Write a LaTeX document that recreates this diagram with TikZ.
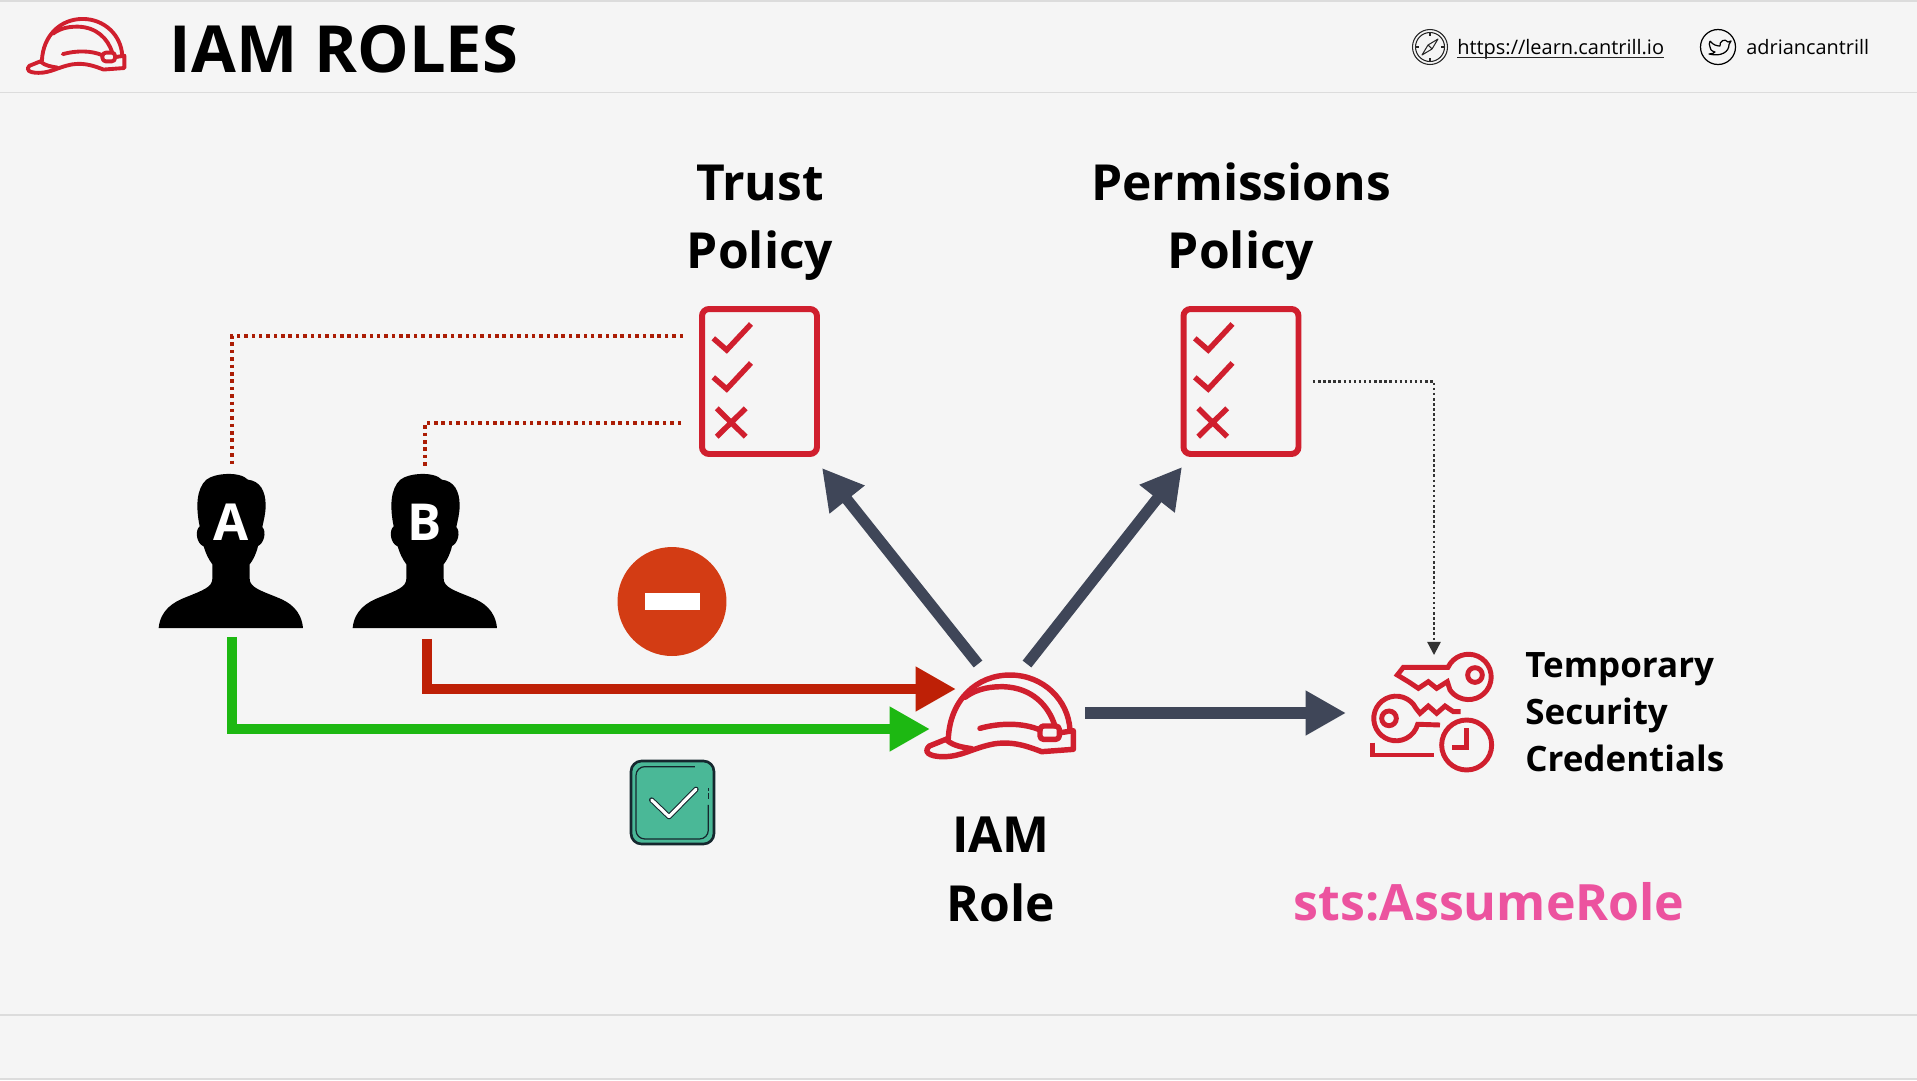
\documentclass[tikz,border=0pt]{standalone}
\usepackage{fontspec}
\usepackage{xcolor}
\setmainfont{Open Sans}
\usetikzlibrary{arrows.meta}
\definecolor{pagegrey}{HTML}{F5F5F5}
\definecolor{ruleline}{HTML}{DCDCDC}
\definecolor{iamred}{HTML}{D01F2E}
\definecolor{slate}{HTML}{3F4658}
\definecolor{denyred}{HTML}{BE2006}
\definecolor{denyfill}{HTML}{D33C14}
\definecolor{allowgreen}{HTML}{1DB812}
\definecolor{stsPink}{HTML}{EC539F}
\definecolor{tilegreen}{HTML}{4AB897}
\definecolor{tileedge}{HTML}{15272E}
\tikzset{
    policy/.style={draw=iamred,line width=3.4pt,rounded corners=4pt,minimum width=2.3cm,minimum height=2.9cm,inner sep=0pt},
    ghost/.style={inner sep=0pt,outer sep=0pt},
    heading/.style={font=\bfseries\fontsize{28.3}{39}\selectfont,align=center},
    roletip/.style={-{Triangle[length=23pt,width=24pt]},slate,line width=6.3pt},
    denytip/.style={-{Triangle[length=23pt,width=24pt]},denyred,line width=6pt},
    allowtip/.style={-{Triangle[length=23pt,width=24pt]},allowgreen,line width=6pt},
    trustlink/.style={denyred!90!black,line width=2.1pt,dash pattern=on 2pt off 2.2pt},
    permlink/.style={black!80,line width=1.3pt,dash pattern=on 1.4pt off 1.5pt,-{Triangle[length=7.5pt,width=7.5pt]}},
    pics/hat/.style={code={
        \begin{scope}[shift={(-300,-228)},iamred,line width=#1,line join=round,line cap=round]
            \draw (145,295) .. controls (150,180) and (230,105) .. (330,105) .. controls (430,105) and (505,180) .. (510,270);
            \draw (195,172) .. controls (235,142) and (280,140) .. (310,140) .. controls (395,143) and (445,195) .. (465,258);
            \draw (145,295) -- (88,318) .. controls (70,335) and (85,350) .. (130,350) .. controls (185,350) and (215,325) .. (280,312) .. controls (340,302) and (385,320) .. (425,335) -- (520,328) -- (520,272) -- (482,278);
            \draw (140,300) .. controls (160,318) and (190,322) .. (215,326);
            \draw (240,265) .. controls (300,248) and (370,248) .. (420,270);
            \draw[rounded corners=2pt] (420,258) rectangle (478,298);
        \end{scope}
    }},
    pics/person/.style={code={
        \fill[black,shift={(-274,-533)}] (57,533) .. controls (62,480) and (100,455) .. (140,440) .. controls (190,420) and (218,410) .. (218,385) -- (218,342) .. controls (205,325) and (197,305) .. (192,288) .. controls (170,280) and (165,240) .. (180,228) .. controls (168,170) and (170,115) .. (200,88) .. controls (225,68) and (300,62) .. (325,88) .. controls (360,92) and (378,120) .. (378,165) .. controls (378,190) and (372,210) .. (368,230) .. controls (382,245) and (372,280) .. (355,287) .. controls (350,310) and (340,330) .. (330,342) -- (330,385) .. controls (330,410) and (360,420) .. (410,440) .. controls (450,455) and (485,480) .. (490,533) -- cycle;
    }}
}
\begin{document}
\begin{tikzpicture}[x=0.02cm,y=-0.02cm]
    \fill[pagegrey] (0,0) rectangle (1917,1080);
    \useasboundingbox (0,0) rectangle (1917,1080);
    % rules
    \draw[ruleline,line width=1pt] (0,1) -- (1917,1);
    \draw[ruleline,line width=1pt] (0,92.5) -- (1917,92.5);
    \draw[ruleline,line width=1pt] (0,1015) -- (1917,1015);
    \draw[ruleline,line width=1pt] (0,1079) -- (1917,1079);

    % header
    \pic[scale=0.22] at (76,46) {hat=2.2pt};
    \node[anchor=base west,inner sep=0pt,font=\bfseries\fontsize{37}{40}\selectfont] (title) at (169.5,72.5) {IAM ROLES};
    \draw[black!85,line width=0.6pt] (1430,47) circle (17.5) (1430,47) circle (14.5);
    \draw[black!85,line width=0.6pt] (1430,32.5) -- (1430,36) (1430,61.5) -- (1430,58) (1415.5,47) -- (1419,47) (1444.5,47) -- (1441,47);
    \draw[black!85,line width=0.6pt,line join=round] (1422,55) -- (1428,45) -- (1438,39) -- (1432,49) -- cycle (1428,45) -- (1432,49);
    \node[anchor=base west,inner sep=0pt,font=\fontsize{11.36}{14}\selectfont] (site) at (1457,54.5) {https://learn.cantrill.io};
    \draw[black!85,line width=0.6pt] (1457,57.5) -- (1664,57.5);
    \draw[black,line width=0.7pt] (1718,47) circle (17.5);
    \draw[black,line width=0.7pt,line join=round,shift={(9,0)}] (1701,41) .. controls (1704,45) and (1708,46) .. (1711,46) .. controls (1710,41) and (1716,38) .. (1719,42) -- (1722,41) -- (1720,44.5) .. controls (1720,52) and (1712,57) .. (1700,54) .. controls (1703,54) and (1705,53) .. (1706,52) .. controls (1702,51) and (1701,49) .. (1701,47) .. controls (1700,45) and (1700,43) .. (1701,41);
    \node[anchor=base west,inner sep=0pt,font=\fontsize{11.33}{14}\selectfont] (handle) at (1746,54.5) {adriancantrill};

    % users
    \pic[scale=0.3333] at (231,628) {person};
    \pic[scale=0.3333] at (425,628) {person};
    \node[white,font=\bfseries\fontsize{29}{30}\selectfont,inner sep=0pt] (labelA) at (231,522) {A};
    \node[white,font=\bfseries\fontsize{29}{30}\selectfont,inner sep=0pt] (labelB) at (425,522) {B};
    \node[ghost,minimum width=2.88cm,minimum height=3.44cm] (userA) at (232,551) {};
    \node[ghost,minimum width=2.88cm,minimum height=3.46cm] (userB) at (425,552.5) {};

    % policies
    \node[policy] (trust) at (759.5,381.5) {};
    \node[policy] (perm) at (1241,381.5) {};
    \foreach \pname in {trust,perm} {
        \begin{scope}[shift={(\pname.center)},shift={(-759.5,-381.5)},iamred,line width=3.1pt]
            \draw (713.3,338.3) -- (726.7,350) -- (751,324);
            \draw (713.3,377.3) -- (726.7,389) -- (751,363);
            \draw (716.7,408.3) -- (745.7,436.7) (745.7,408.3) -- (716.7,436.7);
        \end{scope}
    }
    \node[heading,anchor=south] (trustname) at (760,287) {Trust\\Policy};
    \node[heading,anchor=south] (permname) at (1241,287) {Permissions\\Policy};

    % role
    \pic[scale=0.3333] at (1000,716) {hat=3.1pt};
    \node[ghost,minimum width=3cm,minimum height=1.7cm] (role) at (1000,716) {};
    \node[heading] (rolename) at (1001,869.5) {IAM\\Role};

    % icons for the two outcomes
    \node[circle,fill=denyfill,inner sep=0pt,minimum size=2.18cm] (deny) at (672,601.5) {};
    \node[fill=white,inner sep=0pt,minimum width=1.1cm,minimum height=0.34cm] (denybar) at (deny) {};
    \node[draw=tileedge,fill=tilegreen,line width=1.5pt,rounded corners=6pt,minimum size=1.66cm,inner sep=0pt] (tile) at (672.5,802.5) {};
    \begin{scope}[shift={(600,530)},scale=0.3333]
        \draw[tileedge,line width=0.7pt,rounded corners=5pt] (285,710) -- (108,710) -- (108,927) -- (325,927) -- (325,825);
        \draw[tileedge,line width=0.7pt] (325,790) -- (325,808) (325,775) -- (325,783);
        \draw[tileedge,line width=3pt,line cap=round,line join=round] (155,810) -- (207,860) -- (288,778);
        \draw[white,line width=1.8pt,line cap=round,line join=round] (155,810) -- (207,860) -- (288,778);
    \end{scope}

    % credentials
    \begin{scope}[shift={(1340,630)},scale=0.3333,iamred,line width=2.8pt,line join=miter]
        \draw (172,135) -- (190,112) -- (324,112) arc[start angle=205,end angle=505,radius=68] -- (322,155) -- (290,175) -- (265,155) -- (235,175) -- (205,155) -- cycle;
        \draw (405,135) circle (22);
        \draw (362,245) -- (340,245) -- (315,228) -- (290,250) -- (265,228) -- (240,250) -- (228,235) arc[start angle=333,end angle=15,radius=67] -- (300,285);
        \draw (147,265) circle (22);
        \draw (98,338) -- (98,375) -- (282,375);
        \draw (380,345) circle (75);
        \draw (380,295) -- (380,352) -- (335,352);
    \end{scope}
    \node[ghost,minimum width=2.5cm,minimum height=2.5cm] (creds) at (1434,717.5) {};
    \node[anchor=west,align=left,font=\bfseries\fontsize{19.9}{26.6}\selectfont,inner sep=0pt] (credsname) at (1525,712) {Temporary\\Security\\Credentials};
    \node[anchor=base west,inner sep=0pt,text=stsPink,font=\bfseries\fontsize{28.5}{30}\selectfont] (action) at (1293.5,920) {sts:AssumeRole};

    % connectors
    \coordinate (trustA) at ([shift={(-16,-45.5)}]trust.west);
    \coordinate (trustB) at ([shift={(-18,41.5)}]trust.west);
    \coordinate (startB) at ([shift={(2,0)}]userB.south);
    \coordinate (endB) at ([shift={(-44,-27)}]role.center);
    \coordinate (permOut) at ([shift={(11.5,0)}]perm.east);
    \draw[trustlink] (trustA) -| (userA.north);
    \draw[trustlink] (trustB) -| (userB.north);
    \draw[permlink] (permOut) -| (creds.north);
    \draw[allowtip] (userA.south) |- ([shift={(-70,13)}]role.center);
    \draw[denytip] (startB) |- (endB);
    \draw[roletip] ([shift={(-22,-52)}]role.center) -- ([shift={(2,11)}]trust.south east);
    \draw[roletip] ([shift={(27,-52)}]role.center) -- ([shift={(1.5,10)}]perm.south west);
    \draw[roletip] ([shift={(85,-3)}]role.center) -- (1346,713);
\end{tikzpicture}
\end{document}
